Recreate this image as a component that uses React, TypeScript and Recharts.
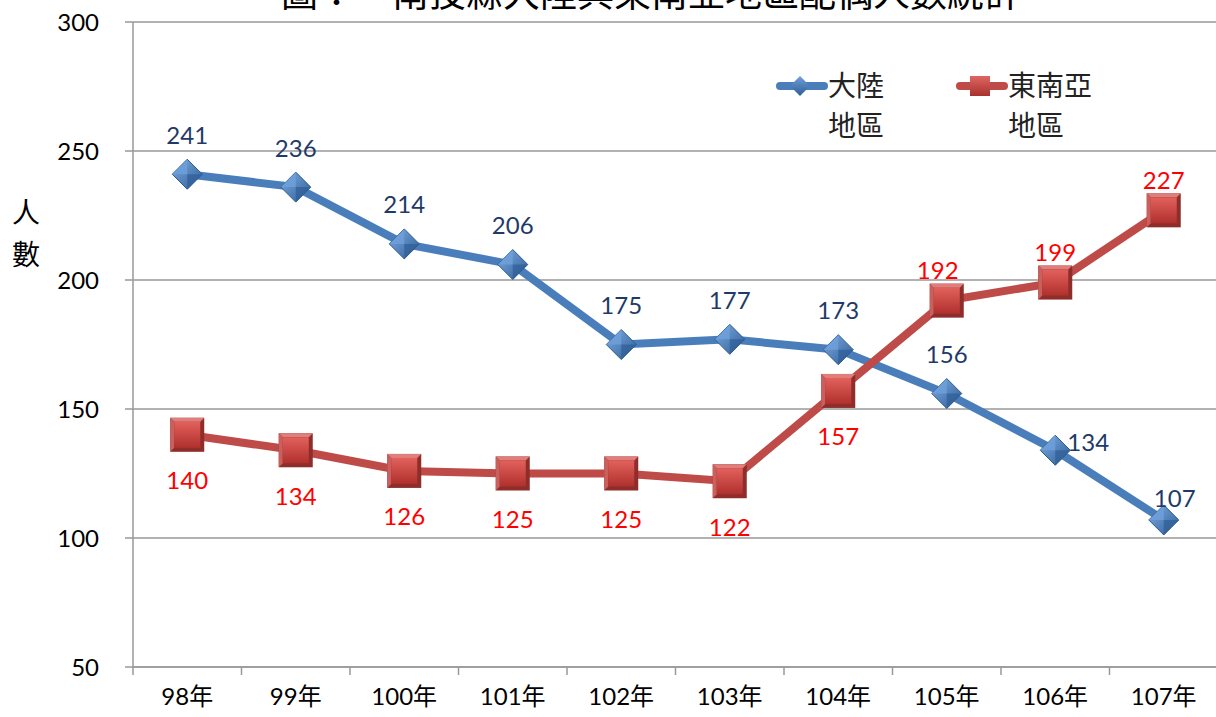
import { LineChart, Line, XAxis, YAxis, CartesianGrid, Legend, LabelList } from "recharts";

// years on the category axis
const years = ["98年", "99年", "100年", "101年", "102年", "103年", "104年", "105年", "106年", "107年"];
// spouses from mainland China
const mainland = [241, 236, 214, 206, 175, 177, 173, 156, 134, 107];
// spouses from Southeast Asia
const seAsia = [140, 134, 126, 125, 125, 122, 157, 192, 199, 227];
const yTicks = [50, 100, 150, 200, 250, 300];

const chartData = years.map((year, i) => ({ year, mainland: mainland[i], seAsia: seAsia[i] }));

const BLUE = "#4A7EBB";
const RED = "#BE4B48";
const NUM_FONT = "Lato, 'Noto Sans CJK TC', sans-serif";
const CJK_FONT = "'Noto Sans CJK TC', sans-serif";

const Diamond = ({ cx, cy, r = 15 }: any) => (
  <g>
    <polygon points={`${cx},${cy - r} ${cx + r},${cy} ${cx},${cy + r} ${cx - r},${cy}`} fill="url(#blueDiamond)" stroke="#2C5A8F" strokeWidth={1} />
    <polygon points={`${cx},${cy - r} ${cx - r},${cy} ${cx},${cy}`} fill="#6FA0DB" opacity={0.8} />
    <polygon points={`${cx},${cy + r} ${cx + r},${cy} ${cx},${cy}`} fill="#2F5E96" opacity={0.7} />
  </g>
);

const Square = ({ cx, cy, r = 17 }: any) => (
  <g>
    <rect x={cx - r} y={cy - r} width={2 * r} height={2 * r} fill="#8E2D2A" />
    <polygon points={`${cx - r},${cy - r} ${cx + r},${cy - r} ${cx + r - 4},${cy - r + 4} ${cx - r + 4},${cy - r + 4}`} fill="#E07E7B" />
    <polygon points={`${cx - r},${cy - r} ${cx - r + 4},${cy - r + 4} ${cx - r + 4},${cy + r - 4} ${cx - r},${cy + r}`} fill="#C9605D" />
    <rect x={cx - r + 4} y={cy - r + 4} width={2 * r - 8} height={2 * r - 8} fill="url(#redSquare)" />
  </g>
);

const blueLabel = (props: any) => {
  const { x, y, value, index } = props;
  let dx = 0;
  let dy = -40;
  if (index === 8) { dx = 33; dy = -9; }
  if (index === 9) { dx = 11; dy = -22; }
  return (
    <text x={x + dx} y={y + dy} textAnchor="middle" dominantBaseline="central" fill="#1F3A68" fontSize={24} fontFamily={NUM_FONT}>
      {value}
    </text>
  );
};

const redLabel = (props: any) => {
  const { x, y, value, index } = props;
  let dx = 0;
  let dy = 45;
  if (index >= 7) dy = -31;
  if (index === 7) dx = -9;
  return (
    <text x={x + dx} y={y + dy} textAnchor="middle" dominantBaseline="central" fill="#FF0000" fontSize={24} fontFamily={NUM_FONT}>
      {value}
    </text>
  );
};

// category label in the middle of the band, tick marks on the band edges
const YearTick = (props: any) => {
  const { x, y, payload, index } = props;
  const half = payload.offset || 0;
  return (
    <g>
      <line x1={x - half} y1={y - 8} x2={x - half} y2={y} stroke="#999" strokeWidth={1.5} />
      {index === years.length - 1 && <line x1={x + half} y1={y - 8} x2={x + half} y2={y} stroke="#999" strokeWidth={1.5} />}
      <text x={x} y={y + 30} textAnchor="middle" fill="#000" fontSize={24} fontFamily={NUM_FONT}>
        {payload.value}
      </text>
    </g>
  );
};

const LegendBox = () => (
  <div style={{ display: "flex", fontFamily: CJK_FONT, fontSize: 28, color: "#222", lineHeight: "40px" }}>
    {[
      { name: ["大陸", "地區"], color: BLUE, marker: "d" },
      { name: ["東南亞", "地區"], color: RED, marker: "s" },
    ].map((item) => (
      <div key={item.name[0]} style={{ display: "flex", width: 180 }}>
        <svg width={52} height={40}>
          <defs>
            <linearGradient id={"lg" + item.marker} x1="0" y1="0" x2="0" y2="1">
              <stop offset="0" stopColor={item.marker === "d" ? "#6FA0DB" : "#E06662"} />
              <stop offset="1" stopColor={item.marker === "d" ? "#2F5E96" : "#A8312E"} />
            </linearGradient>
          </defs>
          <line x1={4} y1={22} x2={48} y2={22} stroke={item.color} strokeWidth={8} strokeLinecap="round" />
          {item.marker === "d" ? (
            <polygon points="24,12 34,22 24,32 14,22" fill={"url(#lg" + item.marker + ")"} />
          ) : (
            <rect x={14} y={12} width={20} height={20} fill={"url(#lg" + item.marker + ")"} />
          )}
        </svg>
        <div>
          <div>{item.name[0]}</div>
          <div>{item.name[1]}</div>
        </div>
      </div>
    ))}
  </div>
);

export default function App() {
  return (
    <div style={{ position: "absolute", left: 0, top: 0, width: 1216, height: 717, overflow: "hidden", background: "#fff" }}>
      <div style={{ position: "absolute", top: -36, left: 0, width: 1302, textAlign: "center", fontFamily: CJK_FONT, fontSize: 37, whiteSpace: "pre", color: "#000" }}>
        {"圖：　南投縣大陸與東南亞地區配偶人數統計"}
      </div>
      <div style={{ position: "absolute", left: 12, top: 190, width: 34, fontFamily: CJK_FONT, fontSize: 28, lineHeight: "42px", color: "#000" }}>
        人<br />數
      </div>
      <LineChart width={1218} height={717} data={chartData} margin={{ top: 22, right: 0, left: 0, bottom: 0 }}>
        <defs>
          <linearGradient id="blueDiamond" x1="0" y1="0" x2="1" y2="1">
            <stop offset="0" stopColor="#7EAEE6" />
            <stop offset="1" stopColor="#2E5C94" />
          </linearGradient>
          <linearGradient id="redSquare" x1="0" y1="0" x2="0" y2="1">
            <stop offset="0" stopColor="#E2615D" />
            <stop offset="1" stopColor="#B0302D" />
          </linearGradient>
        </defs>
        <CartesianGrid vertical={false} stroke="#999" strokeWidth={1.5} />
        <XAxis dataKey="year" scale="band" height={50} tickLine={false} tick={<YearTick />} stroke="#999" strokeWidth={1.5} interval={0} />
        <YAxis
          width={133}
          domain={[50, 300]}
          ticks={yTicks}
          tickSize={8}
          tickMargin={26}
          stroke="#999"
          strokeWidth={1.5}
          tick={{ fill: "#000", fontSize: 24, fontFamily: NUM_FONT }}
        />
        <Legend
          verticalAlign="top"
          height={0}
          content={<LegendBox />}
          wrapperStyle={{ position: "absolute", top: 64, left: 776, width: 400, height: 0, overflow: "visible" }}
        />
        <Line
          type="linear"
          dataKey="mainland"
          name="大陸地區"
          stroke={BLUE}
          strokeWidth={8}
          dot={(p: any) => <Diamond key={"d" + p.index} cx={p.cx} cy={p.cy} />}
          activeDot={false}
          isAnimationActive={false}
        >
          <LabelList dataKey="mainland" content={blueLabel} />
        </Line>
        <Line
          type="linear"
          dataKey="seAsia"
          name="東南亞地區"
          stroke={RED}
          strokeWidth={8}
          dot={(p: any) => <Square key={"s" + p.index} cx={p.cx} cy={p.cy} />}
          activeDot={false}
          isAnimationActive={false}
        >
          <LabelList dataKey="seAsia" content={redLabel} />
        </Line>
      </LineChart>
    </div>
  );
}
